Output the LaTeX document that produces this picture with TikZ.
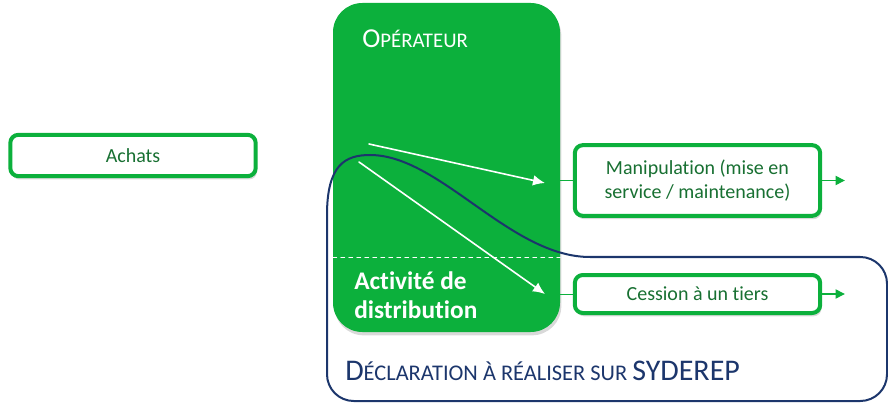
\documentclass[tikz,border=0pt]{standalone}
\usepackage{fontspec}
\setmainfont{Carlito}[Ligatures=NoCommon]
\usepackage[dvipsnames]{xcolor}
\usetikzlibrary{arrows.meta}
\usetikzlibrary{positioning}
\usetikzlibrary{shadows}
\definecolor{opgreen}{RGB}{12,176,60}
\definecolor{txtgreen}{RGB}{24,112,50}
\definecolor{navyline}{RGB}{28,54,108}

\begin{document}
\begin{tikzpicture}[line cap=round,line join=round, x=0.75pt,y=-0.75pt,
	flowbox/.style={draw=opgreen, line width=3pt, fill=white, rounded corners=6pt, text=txtgreen, font=\fontsize{15}{18.3}\selectfont, align=center, minimum width=184pt, inner sep=0pt, drop shadow={opacity=0.3, shadow xshift=1pt, shadow yshift=-2.5pt}},
	link/.style={opgreen, line width=0.6pt},
	outarrow/.style={opgreen, line width=0.8pt, -{Triangle[length=7pt, width=7pt]}},
	whitearrow/.style={white, line width=1.2pt, -{Latex[length=9pt, width=8pt]}}]
						\useasboundingbox (0,0) rectangle (888,413);
						% operateur
						\node[fill=opgreen, rounded corners=22pt, minimum width=170.25pt, minimum height=246.75pt, inner sep=0pt, drop shadow={opacity=0.3, shadow xshift=1pt, shadow yshift=-2.5pt}] (op) at (446.5,167.5) {};
						\coordinate (split) at (446.5,257);
						\draw[white, dashed, line width=0.6pt] (op.west |- split) -- (op.east |- split);
						\node[anchor=base west, text=white, inner sep=0pt] (optitle) at (362,48) {{\fontsize{20.5}{22}\selectfont O}{\fontsize{15.6}{17}\selectfont PÉRATEUR}};
						\node[anchor=north west, text=white, inner sep=0pt, align=left, font=\bfseries\fontsize{19}{22}\selectfont] (distrib) at (354,271) {Activité de\\distribution};
						% boites
						\node[flowbox, minimum height=31pt] (achats) at (133,155.5) {Achats};
						\node[flowbox, minimum height=53pt] (manip) at (697.5,180.5) {Manipulation (mise en\\service / maintenance)};
						\node[flowbox, minimum height=28.5pt] (cession) at (697.5,294) {Cession à un tiers};
						\draw[link] (op.east |- manip.west) -- (manip.west);
						\draw[link] (op.east |- cession.west) -- (cession.west);
						\coordinate[right=17pt of manip.east] (manipout);
						\coordinate[right=17pt of cession.east] (cessionout);
						\draw[outarrow] (manip.east) -- (manipout);
						\draw[outarrow] (cession.east) -- (cessionout);
						% perimetre SYDEREP
						\draw[navyline, line width=1.5pt] (327,215) .. controls (327,165) and (345,155) .. (370,155) .. controls (440,155) and (510,257) .. (590,257) [rounded corners=20pt] -- (887,257) -- (887,401) -- (327,401) -- (327,215);
						\node[anchor=base west, text=navyline, inner sep=0pt] (decl) at (345,380) {{\fontsize{22.5}{24}\selectfont D}{\fontsize{16.8}{18}\selectfont ÉCLARATION À RÉALISER SUR }{\fontsize{22.5}{24}\selectfont SYDEREP}};
						% fleches
						\coordinate (srcA) at (369,144);
						\coordinate (tipA) at (545,183);
						\coordinate (srcB) at (359,162);
						\coordinate (tipB) at (545,294);
						\draw[whitearrow] (srcA) -- (tipA);
						\draw[whitearrow] (srcB) -- (tipB);
					\end{tikzpicture}
\end{document}
